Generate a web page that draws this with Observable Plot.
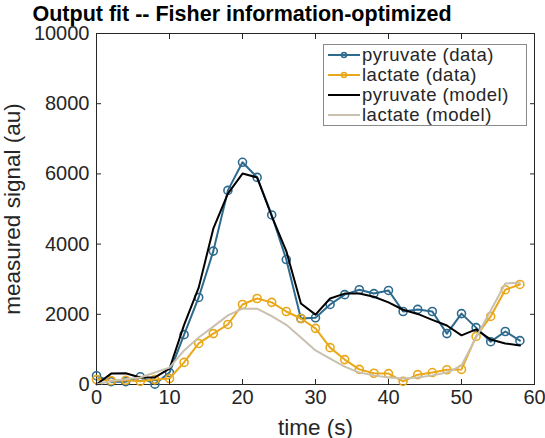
<!DOCTYPE html>
<html><head><meta charset="utf-8">
<script src="https://cdn.jsdelivr.net/npm/d3@7"></script>
<script src="https://cdn.jsdelivr.net/npm/@observablehq/plot@0.6"></script>
<style>
body{margin:0;background:#fff;font-family:"Liberation Sans",Arial,sans-serif;}
#wrap{position:relative;width:545px;height:438px;}
#legend{position:absolute;left:323px;top:44px;width:202px;height:80px;border:1px solid #8a8a8a;background:#fff;}
.row{position:absolute;left:0;height:20px;display:flex;align-items:center;font-size:18.5px;letter-spacing:0.5px;color:#262626;line-height:20px;white-space:nowrap;}
.row svg{margin-left:4px;margin-right:2px;flex:none;}
</style></head>
<body><div id="wrap"></div>
<script>
const time = d3.range(0, 60, 2);
const pyruvateData = [250,80,80,220,10,340,1420,2480,3800,5530,6330,5900,4830,3560,1880,1900,2280,2560,2700,2590,2680,2080,2140,2080,1450,2020,1620,1220,1510,1250];
const lactateData  = [140,110,120,90,140,170,630,1170,1450,1710,2280,2450,2340,2080,1880,1600,1050,710,430,320,310,90,280,340,420,430,1370,1940,2700,2850];
const pyruvateModel = [0,310,320,200,200,450,1700,2760,4440,5440,6010,5900,4800,3800,2310,1990,2450,2590,2590,2500,2340,2130,2010,1840,1680,1400,1570,1280,1170,1110];
const lactateModel  = [0,100,150,200,340,480,970,1340,1650,1970,2160,2160,1950,1700,1340,970,740,510,340,260,200,170,200,260,340,540,1340,2110,2880,2900];
const xTicks = [0,10,20,30,40,50,60];
const yTicks = [0,2000,4000,6000,8000,10000];
const titleText = "Output fit -- Fisher information-optimized";
const series = [
  {name:"pyruvate (data)", values: pyruvateData, color:"#2d6a8e", marker:true},
  {name:"lactate (data)", values: lactateData, color:"#e9a71a", marker:true},
  {name:"pyruvate (model)", values: pyruvateModel, color:"#000000", marker:false},
  {name:"lactate (model)", values: lactateModel, color:"#c9c0b0", marker:false}
];
const rows = series.flatMap(s => time.map((t,i) => ({t, v: s.values[i], name: s.name})));
const ink = "#262626";
const fs = "20px";
const marks = [];
for (const s of series) {
  const d = rows.filter(r => r.name === s.name);
  marks.push(Plot.line(d, {x:"t", y:"v", stroke:s.color, strokeWidth:2}));
  if (s.marker) marks.push(Plot.dot(d, {x:"t", y:"v", stroke:s.color, r:4, strokeWidth:1.6, fill:"none"}));
}
const chart = Plot.plot({
  width:545, height:438,
  marginLeft:96, marginRight:11, marginTop:33, marginBottom:54,
  style:{fontFamily:'"Liberation Sans",Arial,sans-serif', color:ink, background:"#fff"},
  x:{domain:[0,60]},
  y:{domain:[0,10000]},
  marks:[
    Plot.frame({stroke:ink, strokeWidth:1}),
    ...marks,
    Plot.axisX({ticks:xTicks, tickSize:-5, tickFormat:()=>"", label:null, stroke:ink}),
    Plot.axisX({anchor:"top", ticks:xTicks, tickSize:-5, tickFormat:()=>"", label:null, stroke:ink}),
    Plot.axisY({ticks:yTicks, tickSize:-5, tickFormat:()=>"", label:null, stroke:ink}),
    Plot.axisY({anchor:"right", ticks:yTicks, tickSize:-5, tickFormat:()=>"", label:null, stroke:ink}),
    Plot.axisX({ticks:xTicks, tickSize:0, tickPadding:5, fontSize:fs, fill:ink, label:"time (s)", labelAnchor:"center", labelArrow:"none", labelOffset:50}),
    Plot.axisY({ticks:yTicks, tickSize:0, tickPadding:7, fontSize:fs, fill:ink, tickFormat:d=>String(d), label:"measured signal (au)", labelAnchor:"center", labelArrow:"none", labelOffset:92}),
    Plot.text([titleText], {frameAnchor:"top-left", text:d=>d, dx:-64, dy:-28, fontSize:21.5, fontWeight:"bold", fill:"#000", textAnchor:"start"})
  ]
});
d3.select(chart).selectAll('g[aria-label="x-axis label"] text, g[aria-label="y-axis label"] text').style("font-size","22.5px");
document.getElementById("wrap").appendChild(chart);
const leg = d3.select("#wrap").append("div").attr("id","legend");
series.forEach((s,i) => {
  const row = leg.append("div").attr("class","row").style("top", (0 + i*20) + "px");
  const sv = row.append("svg").attr("width",32).attr("height",12);
  sv.append("line").attr("x1",0).attr("x2",32).attr("y1",6).attr("y2",6).attr("stroke",s.color).attr("stroke-width",2);
  if (s.marker) sv.append("circle").attr("cx",16).attr("cy",6).attr("r",2.5).attr("fill","none").attr("stroke",s.color).attr("stroke-width",1.5);
  row.append("span").text(s.name);
});
</script></body></html>
